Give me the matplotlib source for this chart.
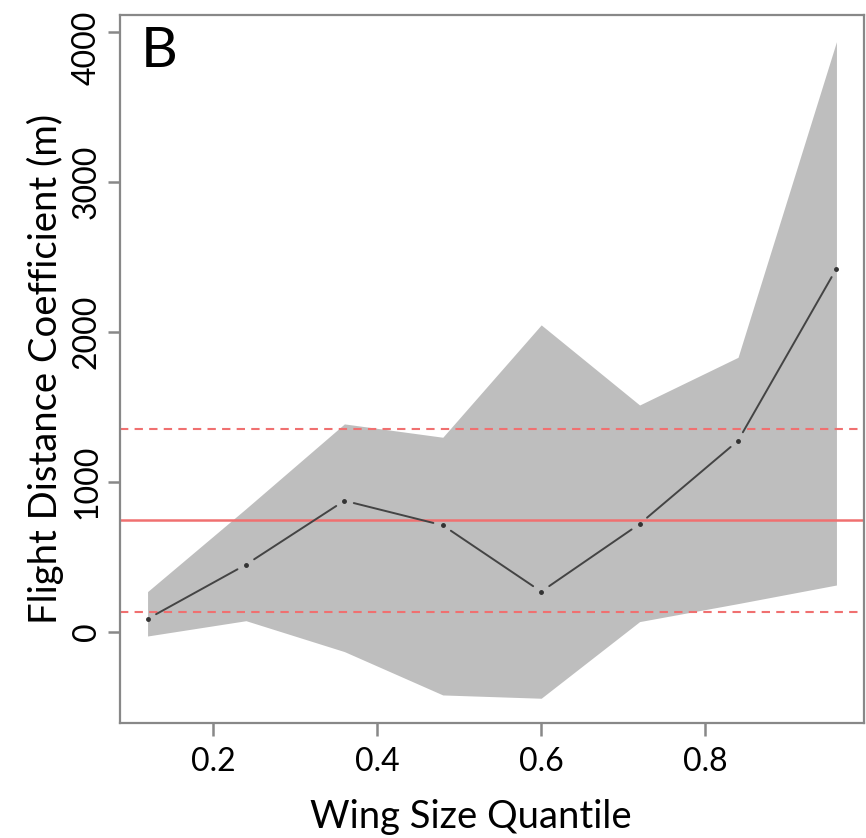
import matplotlib
matplotlib.use("Agg")
import matplotlib.pyplot as plt
from matplotlib.transforms import ScaledTranslation

quantile = [0.12, 0.24, 0.36, 0.48, 0.60, 0.72, 0.84, 0.96]
coef = [85, 447, 873, 709, 267, 718, 1273, 2420]
upper = [267, 820, 1385, 1296, 2045, 1511, 1829, 3933]
lower = [-29, 73, -133, -422, -444, 67, 187, 311]
mean_line = 745
band_hi = 1349
band_lo = 133
xticks = [0.2, 0.4, 0.6, 0.8]
yticks = [0, 1000, 2000, 3000, 4000]

plt.rcParams['font.family'] = ['Lato', 'DejaVu Sans']

fig = plt.figure(figsize=(8.66, 8.38), dpi=100)
ax = fig.add_axes([120/866, 1-723.3/838, (864-120)/866, (723.3-15)/838])

ax.fill_between(quantile, lower, upper, color='#bebebe', linewidth=0, zorder=1)

ax.axhline(mean_line, color='#f07070', lw=1.8, zorder=2)
for v in (band_hi, band_lo):
    ax.axhline(v, color='#f07070', lw=1.5, ls=(0, (4, 3)), zorder=2)

ax.plot(quantile, coef, 'o', color='#333333', ms=2.5, zorder=4)
for i in range(len(quantile) - 1):
    ax.annotate('', xy=(quantile[i+1], coef[i+1]), xytext=(quantile[i], coef[i]),
                arrowprops=dict(arrowstyle='-', color='#444444', lw=1.4,
                                shrinkA=7, shrinkB=7), zorder=3)

ax.set_xlim(0.0864, 0.9936)
ax.set_ylim(-611, 4111)
ax.set_xticks(xticks)
ax.set_xticklabels([f"{t:.1f}" for t in xticks], fontsize=23)
ax.set_yticks(yticks)
ax.set_yticklabels([str(t) for t in yticks], fontsize=23, rotation=90, va='center')
ax.tick_params(axis='both', color='#888888', width=1.8, length=9, direction='out')
ax.tick_params(axis='x', pad=8)
ax.tick_params(axis='y', pad=4)
for s in ax.spines.values():
    s.set_color('#888888')
    s.set_linewidth(1.6)

top_lab = ax.get_yticklabels()[-1]
top_lab.set_transform(top_lab.get_transform() + ScaledTranslation(0, -16/100, fig.dpi_scale_trans))

ax.set_xlabel('Wing Size Quantile', fontsize=27.5, labelpad=16)
ax.xaxis.label.set_x(0.472)
ax.set_ylabel('Flight Distance Coefficient (m)', fontsize=27.5, labelpad=6)

ax.text(0.028, 0.985, 'B', transform=ax.transAxes, fontsize=41, va='top', ha='left')

fig.savefig('out.png', dpi=100)
